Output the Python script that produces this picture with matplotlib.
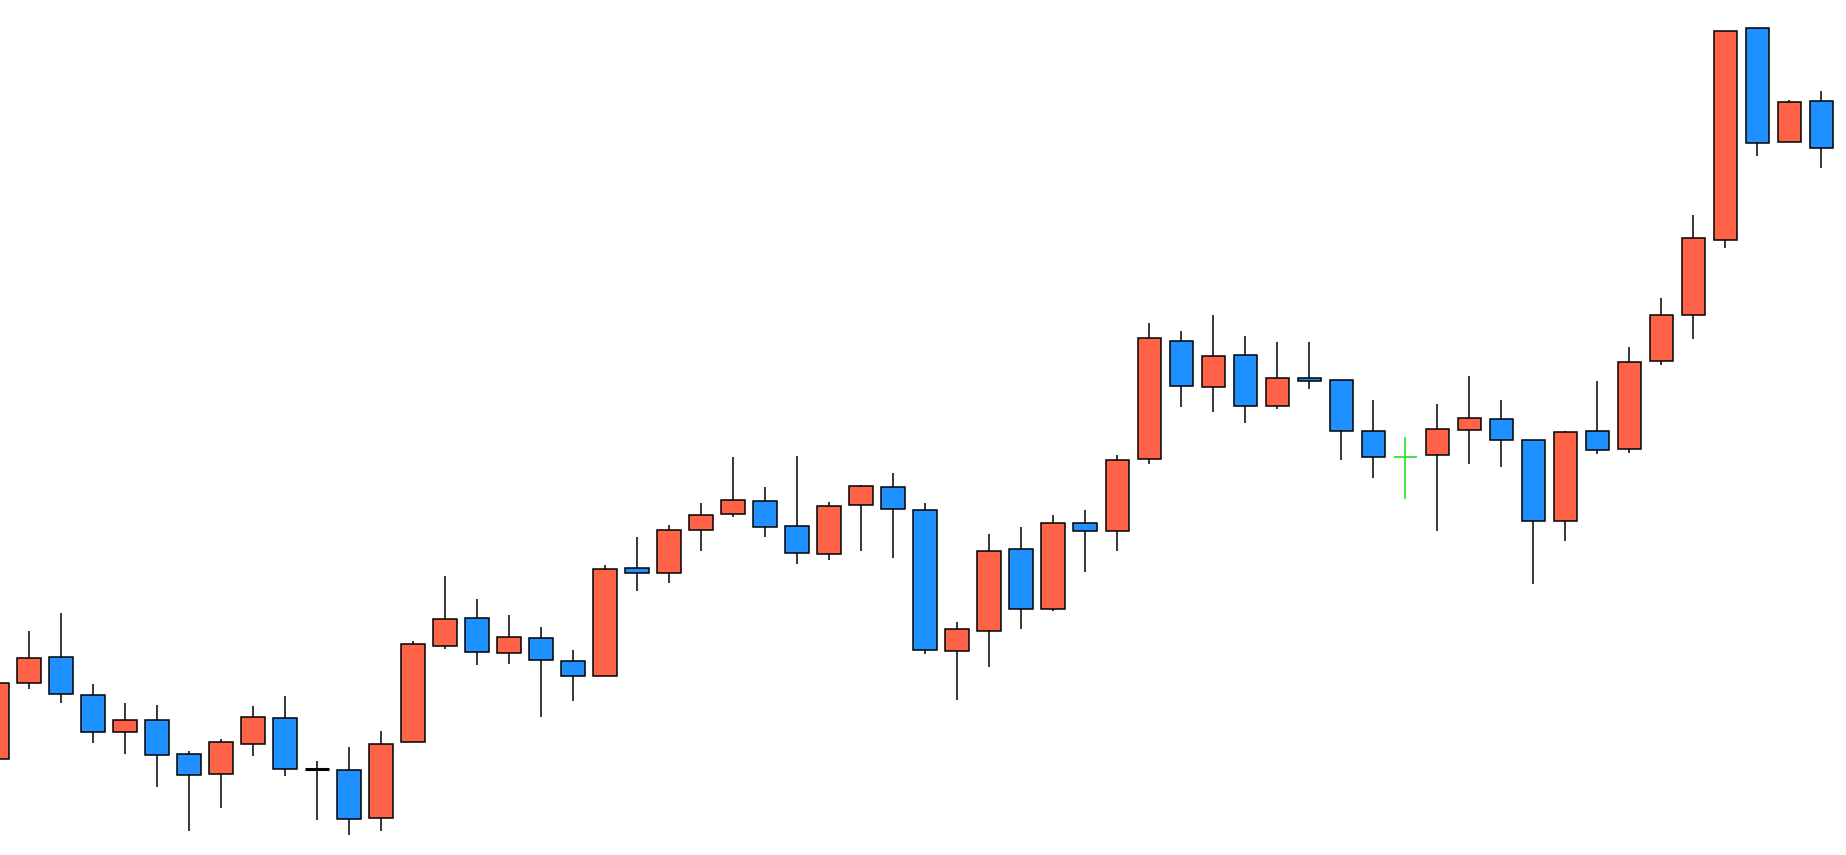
import matplotlib
matplotlib.use("Agg")
import matplotlib.pyplot as plt

# OHLC values (arbitrary price units)
opens = [95.7, 171.7, 197.7, 159.7, 122.7, 134.7, 100.7, 80.7, 110.7, 136.7,
         86.3, 84.7, 36.7, 112.7, 208.7, 236.7, 201.7, 216.7, 193.7, 178.7,
         286.7, 281.7, 324.7, 340.7, 353.7, 328.7, 300.7, 349.7, 367.7, 344.7,
         203.7, 223.7, 305.7, 245.7, 331.7, 323.7, 395.7, 513.7, 467.7, 499.7,
         448.7, 476.7, 474.7, 423.7, 397.7, 399.7, 424.7, 435.7, 414.7, 333.7,
         423.7, 405.7, 493.7, 539.7, 614.7, 826.7, 712.7, 753.7]
highs = [171.7, 224.0, 241.7, 171.0, 152.0, 150.0, 104.0, 116.0, 149.0, 159.0,
         94.0, 108.0, 124.0, 214.0, 279.0, 256.0, 240.0, 228.0, 205.0, 290.0,
         318.0, 330.0, 352.0, 398.0, 368.0, 399.0, 353.0, 369.7, 382.0, 352.0,
         233.0, 321.0, 327.7, 340.0, 345.0, 400.0, 532.0, 524.0, 540.0, 519.0,
         513.0, 513.0, 474.7, 455.0, 418.0, 451.0, 479.0, 455.0, 414.7, 423.7,
         474.0, 508.0, 557.0, 640.0, 823.7, 826.7, 755.0, 764.0]
lows = [95.7, 166.3, 152.3, 112.3, 101.3, 68.3, 24.3, 47.3, 99.3, 79.3,
        35.3, 20.3, 24.3, 112.7, 206.3, 190.3, 191.3, 138.3, 154.3, 178.7,
        264.3, 272.3, 304.3, 338.3, 318.3, 291.3, 295.3, 304.3, 297.3, 201.3,
        155.3, 188.3, 226.3, 244.3, 283.3, 304.3, 391.3, 448.3, 443.3, 432.3,
        446.3, 466.3, 395.3, 377.3, 356.3, 324.3, 391.3, 388.3, 271.3, 314.3,
        401.3, 402.3, 490.3, 516.3, 607.3, 699.3, 712.7, 687.3]
closes = [171.7, 196.7, 160.7, 122.7, 134.7, 99.7, 79.7, 112.7, 137.7, 85.7,
          86.3, 35.7, 110.7, 210.7, 235.7, 202.7, 217.7, 194.7, 178.7, 285.7,
          281.7, 324.7, 339.7, 354.7, 327.7, 301.7, 348.7, 368.7, 345.7, 204.7,
          225.7, 303.7, 245.7, 331.7, 323.7, 394.7, 516.7, 468.7, 498.7, 448.7,
          476.7, 473.7, 423.7, 397.7, 397.7, 425.7, 436.7, 414.7, 333.7, 422.7,
          404.7, 492.7, 539.7, 616.7, 823.7, 711.7, 752.7, 706.7]
marked = 44  # the candle drawn as a green cross

up_color = "#FF6347"
down_color = "#1E90FF"
width = 0.74

fig = plt.figure(figsize=(18.46, 8.55), dpi=100)
ax = fig.add_axes([0, 0, 1, 1])

for i, (o, h, l, c) in enumerate(zip(opens, highs, lows, closes)):
    if i == marked:
        ax.vlines(i, l, h, color="#22E022", linewidth=1.2, zorder=1)
        ax.hlines(o, i - width / 2, i + width / 2, color="#22E022", linewidth=1.2, zorder=2)
        continue
    ax.vlines(i, l, h, color="black", linewidth=1.1, zorder=1)
    if o == c:
        ax.hlines(o, i - width / 2, i + width / 2, color="black", linewidth=2.2, zorder=2)
    else:
        col = up_color if c > o else down_color
        ax.bar(i, abs(c - o), bottom=min(o, c), width=width, color=col,
               edgecolor="black", linewidth=1.1, zorder=2)

ax.set_xlim(0.084, 57.77)
ax.set_ylim(0, 855)
ax.axis("off")

fig.savefig("out.png", dpi=100, facecolor="white")
